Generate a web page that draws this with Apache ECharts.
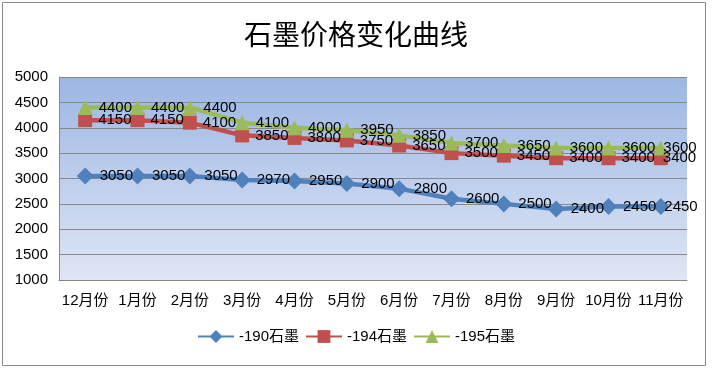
<!DOCTYPE html>
<html><head><meta charset="utf-8">
<script src="https://cdn.jsdelivr.net/npm/echarts@6/dist/echarts.min.js"></script>
<style>html,body{margin:0;padding:0;background:#fff}#c{width:712px;height:370px}</style>
</head><body><div id="c"></div>
<script>
const categories = ['12月份','1月份','2月份','3月份','4月份','5月份','6月份','7月份','8月份','9月份','10月份','11月份'];
const s190 = [3050,3050,3050,2970,2950,2900,2800,2600,2500,2400,2450,2450];
const s194 = [4150,4150,4100,3850,3800,3750,3650,3500,3450,3400,3400,3400];
const s195 = [4400,4400,4400,4100,4000,3950,3850,3700,3650,3600,3600,3600];
const seriesNames = ['-190石墨','-194石墨','-195石墨'];
const yTicks = {min:1000, max:5000, interval:500};

const chart = echarts.init(document.getElementById('c'));
const font = '"Liberation Sans","Noto Sans CJK SC",sans-serif';
function mk(name, data, color, symbol, size){
  const last = data.length - 1;
  return {
    name, type:'line', data, symbol, symbolSize:size,
    itemStyle:{color},
    lineStyle:{color, width:4.5},
    label:{show:true, position:'right', distance:6, color:'#000', fontSize:15, fontFamily:font},
    labelLayout:(p)=> p.dataIndex === last ? {dx:-11, hideOverlap:false} : {hideOverlap:false},
    z: 2
  };
}
chart.setOption({
  animation:false,
  textStyle:{fontFamily:font},
  title:{text:'石墨价格变化曲线', left:'center', top:15,
    textStyle:{fontFamily:'"Noto Sans CJK SC",serif', fontSize:28, fontWeight:'normal', color:'#000'}},
  graphic:[{type:'rect', shape:{x:2.5,y:2.5,width:703,height:363}, style:{fill:null, stroke:'#888', lineWidth:1}, silent:true}],
  grid:{left:59, right:25, top:77, bottom:90, show:true, borderWidth:0,
    backgroundColor:new echarts.graphic.LinearGradient(0,0,0,1,[{offset:0,color:'#9cb6e4'},{offset:1,color:'#dfe6f5'}])},
  legend:{bottom:21, left:'center', itemWidth:36, itemHeight:16, itemGap:6,
    textStyle:{fontSize:15, color:'#000', fontFamily:font}, data:seriesNames},
  xAxis:{type:'category', data:categories, boundaryGap:true,
    axisLine:{lineStyle:{color:'#888', width:1}}, axisTick:{show:false},
    axisLabel:{color:'#000', fontSize:15, margin:13, interval:0, fontFamily:font}},
  yAxis:{type:'value', min:yTicks.min, max:yTicks.max, interval:yTicks.interval,
    axisLine:{show:true, lineStyle:{color:'#888'}}, axisTick:{show:false},
    splitLine:{lineStyle:{color:'#888', width:1}},
    axisLabel:{color:'#000', fontSize:15, margin:11, fontFamily:font, formatter:v=>String(v)}},
  series:[
    mk(seriesNames[0], s190, '#4f81bd', 'diamond', 17),
    mk(seriesNames[1], s194, '#c0504d', 'rect', 14),
    mk(seriesNames[2], s195, '#9bbb59', 'triangle', 15)
  ]
});
</script></body></html>
